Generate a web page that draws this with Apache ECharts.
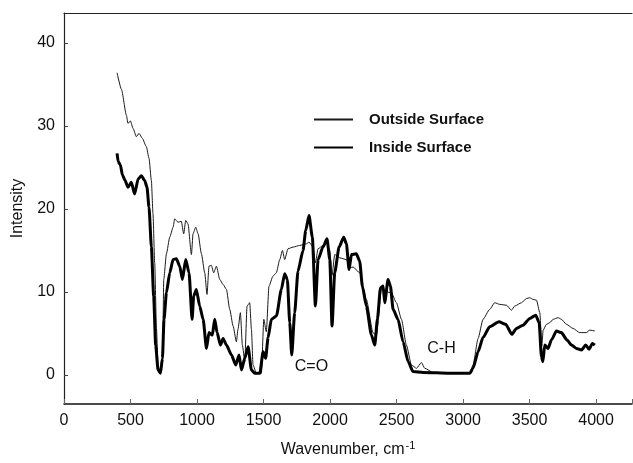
<!DOCTYPE html>
<html>
<head>
<meta charset="utf-8">
<script src="https://cdn.jsdelivr.net/npm/echarts@6/dist/echarts.min.js"></script>
<style>
  html, body { margin: 0; padding: 0; background: #fff; }
  #chart { width: 633px; height: 463px; }
</style>
</head>
<body>
<div id="chart"></div>
<script>
// Outside surface spectrum (thin trace)
const outsideWavenumber = [399, 432, 469, 481, 499, 519, 544, 564, 589, 619, 639, 657, 669, 682, 695, 707, 720, 740, 750, 770, 795, 820, 832, 857, 882, 900, 915, 932, 958, 970, 990, 1008, 1033, 1058, 1075, 1090, 1108, 1125, 1146, 1171, 1196, 1221, 1246, 1271, 1296, 1308, 1326, 1341, 1359, 1376, 1396, 1409, 1421, 1446, 1484, 1502, 1521, 1541, 1571, 1596, 1622, 1642, 1659, 1684, 1722, 1772, 1822, 1842, 1872, 1890, 1910, 1947, 1973, 1998, 2015, 2035, 2073, 2123, 2148, 2173, 2223, 2273, 2323, 2348, 2386, 2424, 2461, 2499, 2537, 2574, 2612, 2650, 2687, 2712, 2775, 2900, 3051, 3075, 3113, 3150, 3200, 3238, 3276, 3326, 3364, 3389, 3439, 3476, 3502, 3526, 3552, 3577, 3592, 3602, 3627, 3652, 3677, 3714, 3739, 3777, 3827, 3877, 3927, 3952, 3990];
const outsideIntensity = [36.4, 34.4, 31.3, 30.3, 30.6, 29.7, 28.7, 29.1, 28.5, 27.5, 26.1, 23.4, 19.4, 13.5, 5.6, 1.2, 0.2, 1.2, 11.5, 14.6, 16.6, 17.8, 18.8, 18.4, 18.5, 17.0, 18.6, 18.2, 14.5, 17.0, 17.8, 17.0, 14.6, 12.3, 9.7, 13.1, 13.2, 12.3, 13.1, 11.5, 10.9, 10.3, 7.9, 5.9, 4.0, 5.5, 7.5, 3.6, 1.6, 8.3, 8.7, 5.5, 1.2, 0.2, 0.2, 6.7, 5.2, 10.7, 11.9, 12.3, 13.9, 15.0, 13.9, 15.2, 15.4, 15.6, 15.8, 16.0, 15.4, 13.5, 15.2, 15.6, 16.0, 15.0, 12.0, 14.5, 14.1, 13.9, 12.9, 13.0, 12.3, 9.1, 5.1, 4.7, 10.3, 10.0, 9.9, 8.7, 6.7, 3.6, 1.2, 0.8, 1.5, 0.8, 0.3, 0.2, 0.2, 1.2, 4.4, 6.7, 7.9, 8.7, 8.5, 8.4, 7.8, 8.3, 8.7, 9.2, 9.3, 9.1, 9.0, 7.5, 3.5, 5.4, 6.1, 6.3, 6.7, 6.9, 6.7, 6.1, 5.6, 5.1, 5.1, 5.4, 5.3];

// Inside surface spectrum (thick trace)
const insideWavenumber = [399, 407, 424, 439, 457, 481, 506, 531, 557, 582, 607, 624, 639, 657, 674, 689, 707, 725, 740, 752, 770, 795, 820, 845, 870, 890, 915, 940, 963, 975, 995, 1020, 1046, 1071, 1090, 1115, 1133, 1151, 1176, 1196, 1221, 1259, 1291, 1316, 1334, 1359, 1384, 1409, 1434, 1472, 1497, 1516, 1534, 1559, 1597, 1634, 1659, 1679, 1697, 1712, 1734, 1759, 1797, 1817, 1842, 1867, 1890, 1910, 1947, 1977, 1998, 2015, 2035, 2068, 2103, 2123, 2143, 2161, 2198, 2223, 2243, 2273, 2311, 2336, 2356, 2379, 2399, 2411, 2436, 2454, 2474, 2511, 2549, 2587, 2624, 2700, 2900, 3051, 3075, 3113, 3150, 3200, 3270, 3320, 3367, 3401, 3451, 3502, 3547, 3572, 3589, 3600, 3614, 3639, 3664, 3702, 3739, 3782, 3815, 3852, 3890, 3922, 3947, 3972, 3990];
const insideIntensity = [26.7, 25.7, 25.3, 24.1, 23.5, 22.6, 23.2, 21.8, 23.6, 24.0, 23.4, 22.6, 20.2, 15.4, 9.5, 3.6, 0.6, 0.2, 2.0, 6.7, 9.9, 12.3, 13.9, 14.0, 13.1, 11.5, 13.9, 12.3, 6.7, 9.5, 10.3, 8.3, 6.7, 3.2, 5.1, 4.8, 6.7, 5.1, 3.6, 4.4, 3.6, 2.4, 1.2, 2.4, 0.6, 2.0, 3.4, 0.6, 0.2, 0.2, 2.8, 2.0, 4.5, 6.7, 7.1, 10.3, 12.2, 11.5, 6.3, 2.4, 7.5, 12.5, 15.0, 17.4, 19.2, 16.6, 8.3, 13.9, 15.4, 16.4, 13.9, 5.9, 12.3, 15.4, 16.6, 15.8, 12.7, 14.5, 14.6, 13.7, 10.7, 8.3, 4.8, 3.6, 6.7, 10.5, 10.7, 8.7, 11.5, 10.7, 7.9, 6.7, 4.0, 1.6, 0.4, 0.3, 0.2, 0.2, 0.8, 2.8, 4.5, 5.8, 6.4, 6.1, 4.9, 5.6, 6.0, 6.8, 7.2, 6.3, 2.2, 1.6, 3.6, 3.2, 4.2, 5.3, 5.1, 4.2, 3.6, 3.2, 3.0, 3.6, 3.1, 3.8, 3.6];

// Axis tick values
const xTicks = [0, 500, 1000, 1500, 2000, 2500, 3000, 3500, 4000];
const yTicks = [0, 10, 20, 30, 40];

// Band annotations
const bandLabels = ['C=O', 'C-H'];
const bandPositions = [[1860, 1.0], [2838, 3.2]];

const zip = (xs, ys) => xs.map((x, i) => [x, ys[i]]);

const FONT = '"Liberation Sans", Arial, sans-serif';

const chart = echarts.init(document.getElementById('chart'), null, { renderer: 'canvas' });

chart.setOption({
  animation: false,
  backgroundColor: '#fff',
  grid: { left: 64, top: 13, right: 1, bottom: 54, containLabel: false },
  legend: {
    orient: 'vertical',
    left: 308,
    top: 107,
    itemWidth: 39,
    itemHeight: 14,
    itemGap: 13,
    itemStyle: { opacity: 0 },
    textStyle: { fontFamily: FONT, fontSize: 15, fontWeight: 'bold', color: '#111', padding: [0, 0, 0, 11] },
    data: ['Outside Surface', 'Inside Surface']
  },
  xAxis: [{
    type: 'value',
    min: 0,
    max: 4270,
    interval: 500,
    name: 'Wavenumber, cm{sup|-1}',
    nameLocation: 'middle',
    nameGap: 36,
    nameTextStyle: {
      fontFamily: FONT, fontSize: 16, color: '#111',
      rich: { sup: { fontFamily: FONT, fontSize: 11, color: '#111', verticalAlign: 'top', padding: [0, 0, 9, 1] } }
    },
    axisLine: { show: true, onZero: false, lineStyle: { color: '#111', width: 1.5 } },
    axisTick: { show: true, inside: true, length: 5, lineStyle: { color: '#666' } },
    axisLabel: {
      margin: 9, fontFamily: FONT, fontSize: 16, color: '#111',
      customValues: xTicks,
      formatter: v => (v <= 4000 ? String(v) : '')
    },
    splitLine: { show: false }
  }, {
    type: 'value',
    position: 'top',
    min: 0,
    max: 4270,
    axisLine: { show: true, onZero: false, lineStyle: { color: '#222', width: 1.2 } },
    axisTick: { show: false },
    axisLabel: { show: false },
    splitLine: { show: false }
  }],
  yAxis: {
    type: 'value',
    min: -3.5,
    max: 43.6,
    name: 'Intensity',
    nameLocation: 'middle',
    nameGap: 38,
    nameTextStyle: { fontFamily: FONT, fontSize: 16, color: '#111' },
    axisLine: { show: true, onZero: false, lineStyle: { color: '#222', width: 1.2 } },
    axisTick: { show: true, inside: true, length: 4, customValues: yTicks, lineStyle: { color: '#444' } },
    axisLabel: { margin: 9, fontFamily: FONT, fontSize: 16, color: '#111', customValues: yTicks },
    splitLine: { show: false }
  },
  series: [{
    name: 'Outside Surface',
    type: 'line',
    xAxisIndex: 0,
    data: zip(outsideWavenumber, outsideIntensity),
    symbol: 'none',
    smooth: 0.2,
    smoothMonotone: 'x',
    lineStyle: { color: '#1a1a1a', width: 1 },
    itemStyle: { color: '#1a1a1a' },
    z: 3
  }, {
    name: 'Inside Surface',
    type: 'line',
    xAxisIndex: 0,
    data: zip(insideWavenumber, insideIntensity),
    symbol: 'none',
    smooth: 0.2,
    smoothMonotone: 'x',
    lineStyle: { color: '#000', width: 3 },
    itemStyle: { color: '#000' },
    z: 4,
    markPoint: {
      symbol: 'circle',
      symbolSize: 0,
      label: {
        show: true,
        position: 'inside',
        formatter: p => p.name,
        fontFamily: FONT,
        fontSize: 16,
        color: '#111'
      },
      data: bandLabels.map((name, i) => ({ name, coord: bandPositions[i] }))
    }
  }]
});
</script>
</body>
</html>
